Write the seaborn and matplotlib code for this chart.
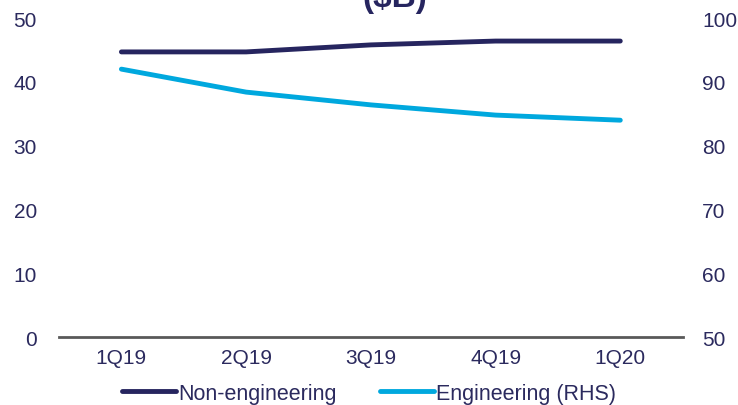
import pandas as pd
import matplotlib
matplotlib.use("Agg")
import matplotlib.pyplot as plt
import seaborn as sns

quarters = ["1Q19", "2Q19", "3Q19", "4Q19", "1Q20"]
non_engineering = [44.7, 44.7, 45.8, 46.4, 46.4]
engineering_rhs = [92.0, 88.4, 86.4, 84.8, 84.0]

navy = "#26255F"
light_blue = "#00A8DE"
text_col = "#2B2A5E"

sns.set_style("white")
plt.rcParams["font.family"] = ["Liberation Sans", "DejaVu Sans"]

df = pd.DataFrame({"Quarter": quarters,
                   "Non-engineering": non_engineering,
                   "Engineering (RHS)": engineering_rhs})

fig = plt.figure(figsize=(7.38, 4.06), dpi=100)
ax = fig.add_axes([0.08, 0.167, 0.845, 0.786])
ax2 = ax.twinx()

sns.lineplot(data=df, x="Quarter", y="Non-engineering", ax=ax, color=navy,
             lw=3.5, solid_capstyle="round", label="Non-engineering", legend=False)
sns.lineplot(data=df, x="Quarter", y="Engineering (RHS)", ax=ax2, color=light_blue,
             lw=3.5, solid_capstyle="round", label="Engineering (RHS)", legend=False)

ax.set_xlim(-0.5, len(quarters) - 0.5)
ax.set_ylim(0, 50)
ax2.set_ylim(50, 100)
ax.set_yticks(range(0, 51, 10))
ax2.set_yticks(range(50, 101, 10))

for a in (ax, ax2):
    for s in ("top", "left", "right", "bottom"):
        a.spines[s].set_visible(False)
    a.set_xlabel("")
    a.set_ylabel("")
    a.tick_params(length=0, labelsize=15, labelcolor=text_col)
ax.spines["bottom"].set_visible(True)
ax.spines["bottom"].set_color("#595959")
ax.spines["bottom"].set_linewidth(2)
ax.tick_params(axis="x", pad=8)
ax.tick_params(axis="y", pad=16)
ax2.tick_params(axis="y", pad=14)

# title sits mostly above the visible area, as in the source image
fig.text(0.535, 0.982, "($B)", ha="center", va="baseline", fontsize=24,
         fontweight="bold", color=navy)

h1, l1 = ax.get_legend_handles_labels()
h2, l2 = ax2.get_legend_handles_labels()
fig.legend(h1 + h2, l1 + l2, loc="lower center", bbox_to_anchor=(0.5, -0.045),
           ncol=2, frameon=False, fontsize=15.5, handlelength=2.5,
           handletextpad=0.1, columnspacing=2.0, labelcolor=text_col)

fig.savefig("out.png", dpi=100)
